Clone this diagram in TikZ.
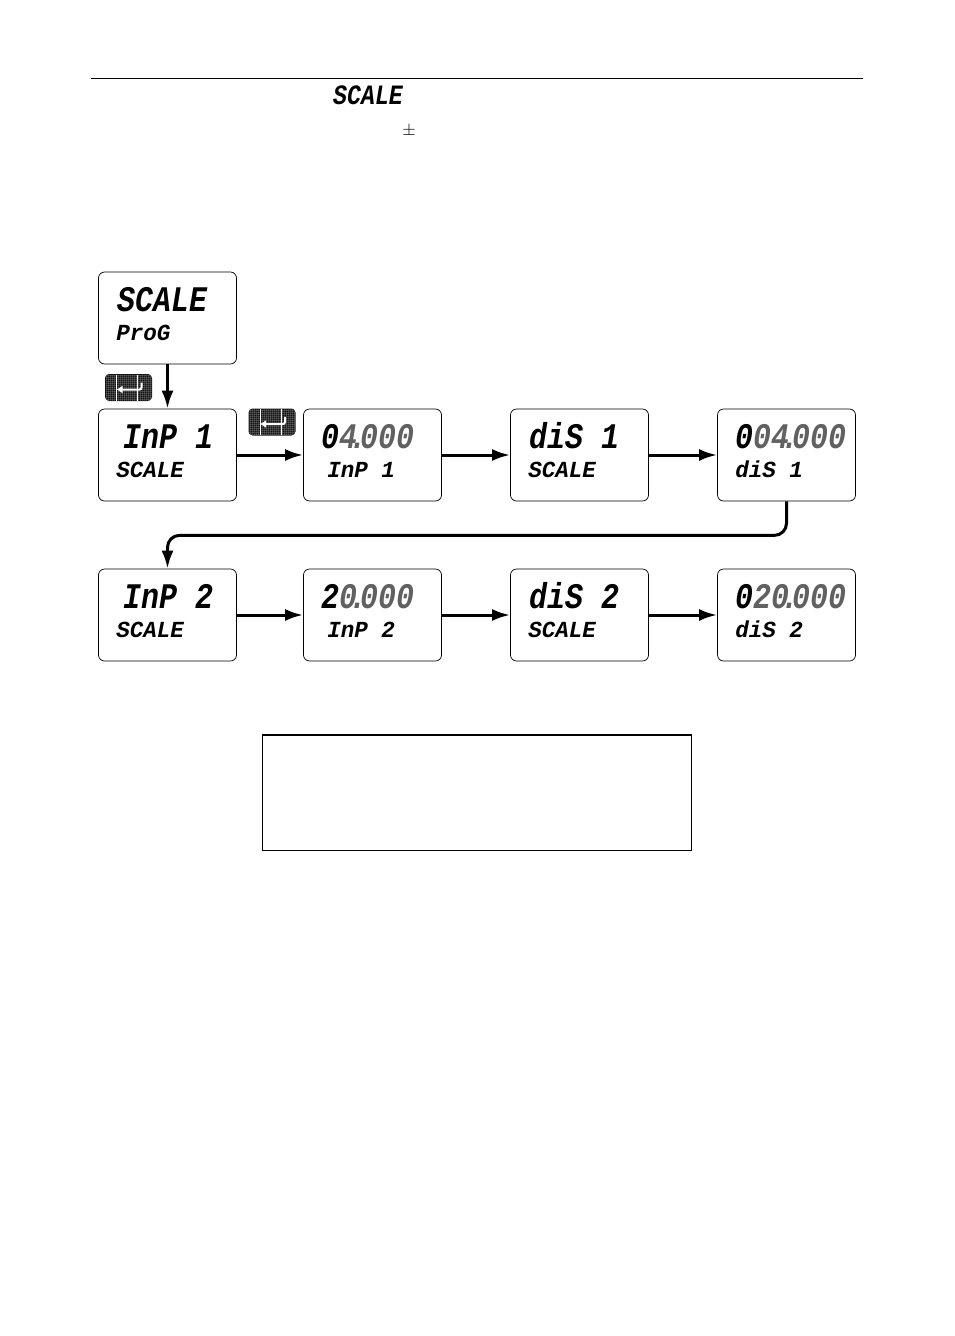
\documentclass[tikz,border=0pt]{standalone}
\usepackage{fontspec}
\usepackage{xcolor}
\usetikzlibrary{positioning,arrows.meta,calc}
\newfontfamily\lcdwide[FakeStretch=0.98]{Liberation Mono Bold Italic}
\newfontfamily\lcdnarrow[FakeStretch=0.83]{Liberation Mono Bold Italic}
\definecolor{dimlcd}{gray}{0.38}
\newcommand{\dimdigit}[1]{\textcolor{dimlcd}{#1}}
\newcommand{\lcdpoint}{\makebox[3pt]{\textcolor{dimlcd}{.}}}
\tikzset{
    lcdbox/.style={
        rectangle,
        draw,
        line width=0.7pt,
        rounded corners=6pt,
        minimum width=138pt,
        minimum height=92pt,
        inner sep=0pt
    },
    lcdbig/.style={anchor=base west, inner sep=0pt, font=\fontsize{36}{36}\lcdnarrow},
    lcdsmall/.style={anchor=base west, inner sep=0pt, font=\fontsize{23}{23}\lcdwide},
    flow/.style={line width=3pt, -{Latex[length=18pt,width=12pt]}},
    enterkey/.pic={
        \fill[black!92, rounded corners=4pt] (-23.5,-13.5) rectangle (23.5,13.5);
        \foreach \i in {-22,-20,...,22}
            \draw[white, opacity=0.16, line width=0.5pt] (\i,-13) -- (\i,13);
        \foreach \j in {-12,-10,...,12}
            \draw[white, opacity=0.16, line width=0.5pt] (-23,\j) -- (23,\j);
        \draw[white, line width=0.5pt] (-12,-13) -- (-12,13);
        \draw[white, line width=0.5pt] (9,-13) -- (9,13);
        \draw[white, line width=2pt, rounded corners=2pt, -{Latex[length=6pt,width=8pt]}] (13,-5) -- (13,2) -- (-12,2);
    }
}

\begin{document}
\begin{tikzpicture}[x=1pt,y=-1pt]
    \useasboundingbox (0,0) rectangle (954,1336);

    % page header
    \coordinate (ruleleft) at (91,78);
    \coordinate (ruleright) at (863,78);
    \draw[line width=1pt] (ruleleft) -- (ruleright);
    \node[anchor=base west, inner sep=0pt, font=\fontsize{28}{28}\lcdnarrow] (headscale) at (333,104) {SCALE};
    \node[inner sep=0pt, font=\fontsize{17}{17}\selectfont] (plusminus) at (409,131) {$\pm$};

    % displays
    \foreach \name/\x/\y/\topx/\botx/\toptext/\bottext in {
        scale/167.5/318/19/18/{SCALE}/{ProG},
        inpa/167.5/455/25/18/{InP 1}/{SCALE},
        vala/372.5/455/18/24/{0\dimdigit{4\lcdpoint000}}/{InP 1},
        disa/579.5/455/19/18/{diS 1}/{SCALE},
        dspa/786.5/455/18/18/{0\dimdigit{04\lcdpoint000}}/{diS 1},
        inpb/167.5/615/25/18/{InP 2}/{SCALE},
        valb/372.5/615/18/24/{2\dimdigit{0\lcdpoint000}}/{InP 2},
        disb/579.5/615/19/18/{diS 2}/{SCALE},
        dspb/786.5/615/18/18/{0\dimdigit{20\lcdpoint000}}/{diS 2}}
    {
        \node[lcdbox] (\name) at (\x,\y) {};
        \node[lcdbig] (\name top) at ([shift={(\topx,40)}]\name.north west) {\toptext};
        \node[lcdsmall] (\name bot) at ([shift={(\botx,69)}]\name.north west) {\bottext};
    }

    % enter keys
    \pic (keya) at (128.5,387.5) {enterkey};
    \pic (keyb) at (272,422) {enterkey};

    % flow
    \draw[flow] (scale) -- (inpa);
    \draw[flow] (inpa) -- (vala);
    \draw[flow] (vala) -- (disa);
    \draw[flow] (disa) -- (dspa);
    \draw[flow, rounded corners=12pt] (dspa.south) -- ++(0,34) -| (inpb.north);
    \draw[flow] (inpb) -- (valb);
    \draw[flow] (valb) -- (disb);
    \draw[flow] (disb) -- (dspb);

    % empty note frame
    \node[draw, line width=1pt, minimum width=429pt, minimum height=115.5pt, inner sep=0pt] (noteframe) at (477,793) {};
    \draw[line width=2pt] (noteframe.north west) -- (noteframe.north east);
\end{tikzpicture}
\end{document}
